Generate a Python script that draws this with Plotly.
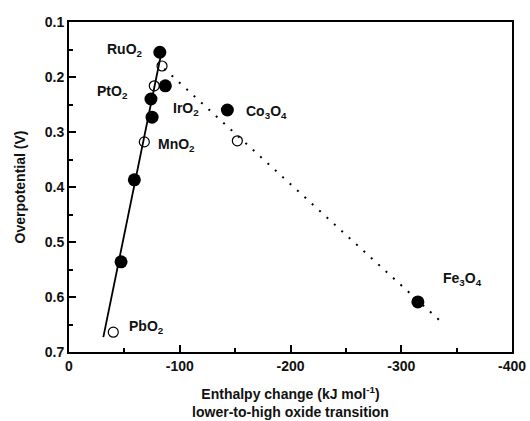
import plotly.graph_objects as go

# Data (enthalpy change in kJ/mol, overpotential in V)
filled_x = [-82, -87, -74, -75, -59, -47, -143, -315]
filled_y = [0.155, 0.216, 0.240, 0.273, 0.387, 0.536, 0.260, 0.609]
open_x = [-84, -77, -68, -152, -40]
open_y = [0.180, 0.216, 0.318, 0.316, 0.664]
solid_fit_x = [-31, -83]
solid_fit_y = [0.673, 0.160]
dotted_fit_x = [-86, -336]
dotted_fit_y = [0.185, 0.645]

label_text = ["RuO<sub>2</sub>", "PtO<sub>2</sub>", "IrO<sub>2</sub>", "Co<sub>3</sub>O<sub>4</sub>",
              "MnO<sub>2</sub>", "PbO<sub>2</sub>", "Fe<sub>3</sub>O<sub>4</sub>"]
label_x = [-50.5, -39.6, -106, -178, -97, -70, -355]
label_y = [0.150, 0.227, 0.259, 0.263, 0.323, 0.654, 0.568]

x_ticks = [0, -100, -200, -300, -400]
y_ticks = [0.1, 0.2, 0.3, 0.4, 0.5, 0.6, 0.7]

FONT = "Liberation Sans, Arial, sans-serif"
INK = "#111"

fig = go.Figure()
fig.add_trace(go.Scatter(x=solid_fit_x, y=solid_fit_y, mode="lines",
                         line=dict(color="black", width=1.8), showlegend=False))
fig.add_trace(go.Scatter(x=dotted_fit_x, y=dotted_fit_y, mode="lines",
                         line=dict(color="black", width=2, dash="2px,8px"), showlegend=False))
fig.add_trace(go.Scatter(x=open_x, y=open_y, mode="markers",
                         marker=dict(symbol="circle-open", size=10, color="black", line=dict(width=1.2)),
                         showlegend=False))
fig.add_trace(go.Scatter(x=filled_x, y=filled_y, mode="markers",
                         marker=dict(symbol="circle", size=13, color="black"),
                         showlegend=False))

for t, x, y in zip(label_text, label_x, label_y):
    fig.add_annotation(x=x, y=y, text=f"<b>{t}</b>", showarrow=False, xref="x", yref="y",
                       font=dict(family=FONT, size=14, color=INK), xanchor="center", yanchor="middle")

axis_common = dict(showline=True, linecolor="black", linewidth=1.8, mirror=True,
                   ticks="inside", ticklen=7, tickwidth=1.8, tickcolor="black",
                   showgrid=False, zeroline=False, automargin=False,
                   tickfont=dict(family=FONT, size=14, color=INK, weight="bold"))

fig.update_xaxes(range=[0, -400], tickvals=x_ticks, ticktext=[str(v) for v in x_ticks],
                 minor=dict(ticks="inside", dtick=50, tick0=0, ticklen=4, tickwidth=1.5, tickcolor="black"),
                 title=dict(text="<b>Enthalpy change (kJ mol<sup>-1</sup>)<br>lower-to-high oxide transition</b>",
                            font=dict(family=FONT, size=14, color=INK), standoff=16),
                 **axis_common)
fig.update_yaxes(range=[0.7, 0.1], tickvals=y_ticks, ticktext=[f"{v:.1f}" for v in y_ticks],
                 minor=dict(ticks="inside", dtick=0.05, tick0=0.1, ticklen=4, tickwidth=1.5, tickcolor="black"),
                 title=dict(text="<b>Overpotential (V)</b>", font=dict(family=FONT, size=14, color=INK),
                            standoff=16),
                 **axis_common)

fig.update_layout(width=530, height=421, margin=dict(l=69, r=18, t=22, b=69),
                  plot_bgcolor="white", paper_bgcolor="white",
                  font=dict(family=FONT, size=13, color=INK))
fig.write_html("out.html")
